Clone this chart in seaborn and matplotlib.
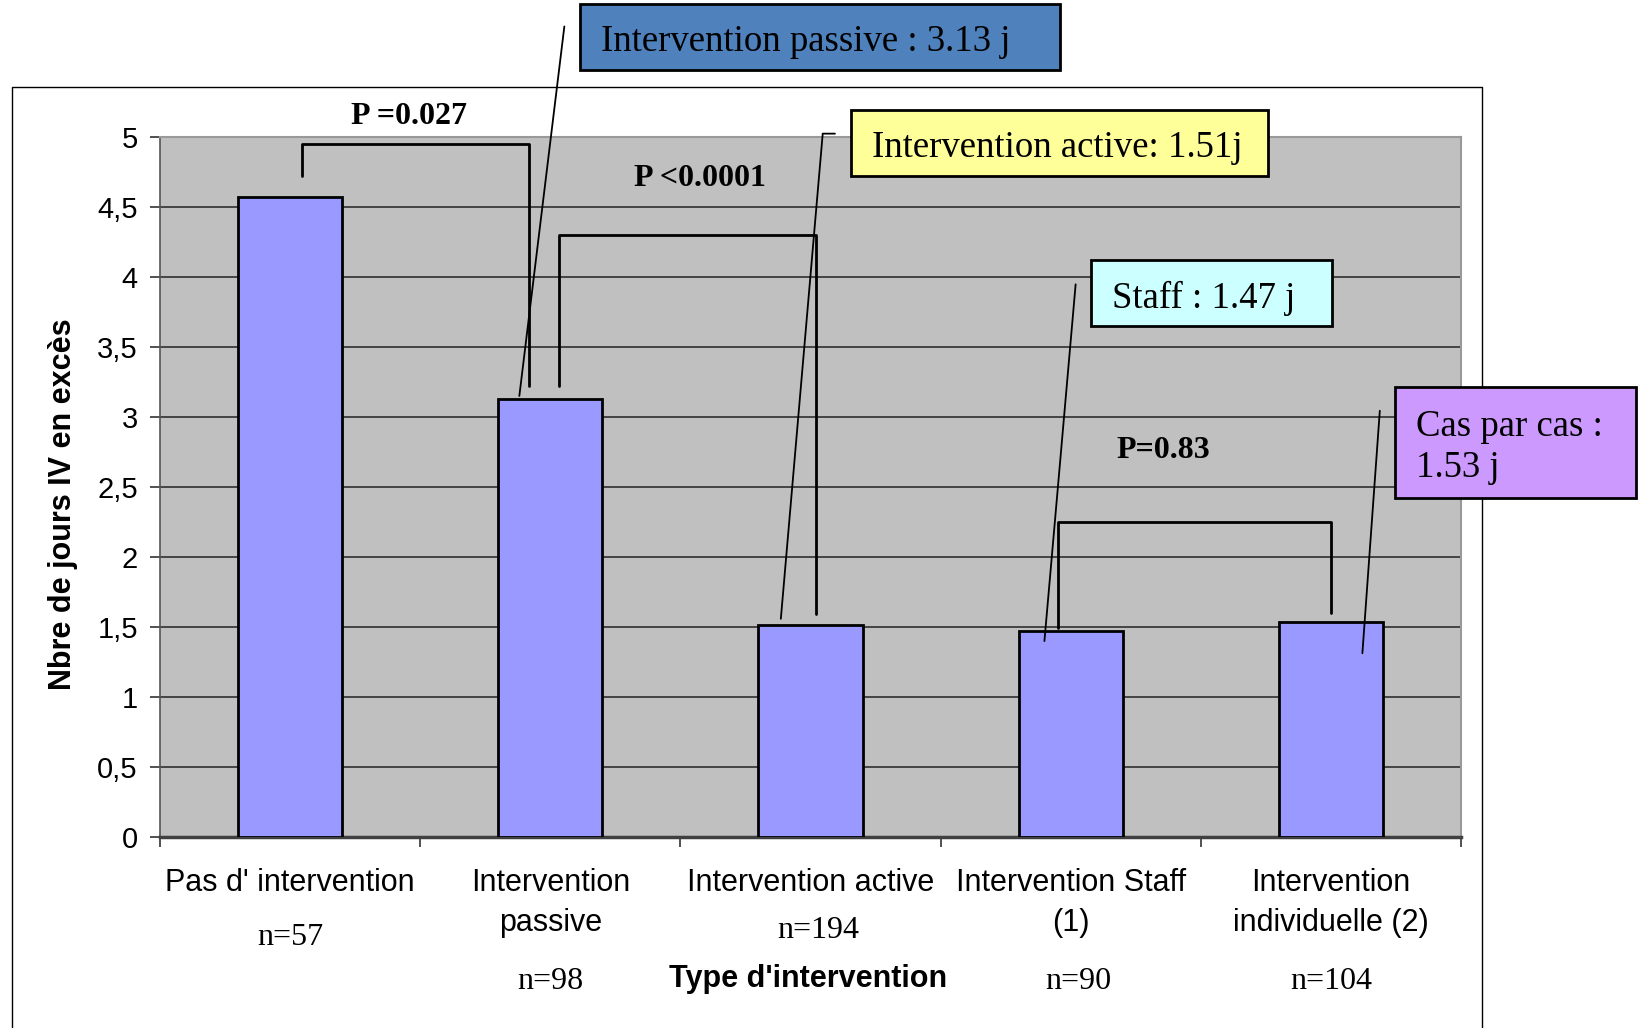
import matplotlib
matplotlib.use('Agg')
import matplotlib.pyplot as plt
import matplotlib.patches as patches
from matplotlib.lines import Line2D
import seaborn as sns
import pandas as pd

# data
categories = ["Pas d' intervention", "Intervention\npassive", "Intervention active",
              "Intervention Staff\n(1)", "Intervention\nindividuelle (2)"]
jours = [4.57, 3.13, 1.51, 1.47, 1.53]
effectifs = ["n=57", "n=98", "n=194", "n=90", "n=104"]
y_ticks = [0, 0.5, 1, 1.5, 2, 2.5, 3, 3.5, 4, 4.5, 5]
y_tick_labels = ["0", "0,5", "1", "1,5", "2", "2,5", "3", "3,5", "4", "4,5", "5"]
p_values = ["P =0.027", "P <0.0001", "P=0.83"]
callouts = ["Intervention passive : 3.13 j", "Intervention active: 1.51j",
            "Staff : 1.47 j", "Cas par cas :\n1.53 j"]
callout_colors = ["#4F81BD", "#FFFF99", "#CCFFFF", "#CC99FF"]

W, H = 1639, 1028
sns.set_style("white")
plt.rcParams['font.family'] = ['Liberation Sans', 'DejaVu Sans']
plt.rcParams['text.color'] = 'black'
plt.rcParams['xtick.color'] = 'black'
plt.rcParams['ytick.color'] = 'black'
SERIF = ['Liberation Serif', 'DejaVu Serif']

df = pd.DataFrame({'type': categories, 'jours': jours})

fig = plt.figure(figsize=(W / 100, H / 100), dpi=100)
ax = fig.add_axes([160 / W, 1 - 836.5 / H, 1301 / W, 699.5 / H])
sns.barplot(data=df, x='type', y='jours', color='#9999FF', saturation=1,
            edgecolor='black', linewidth=2, width=0.4, ax=ax, zorder=3)

ax.set_facecolor('#C0C0C0')
ax.set_xlim(-0.5, 4.5)
ax.set_ylim(0, 5)
ax.set_yticks(y_ticks, y_tick_labels)
ax.yaxis.grid(True, color='#3a3a3a', lw=1.3)
ax.set_axisbelow(True)
ax.set_xlabel('')
ax.set_ylabel('')
ax.tick_params(axis='y', direction='out', length=7, width=1.2, color='#333333',
               labelcolor='black', pad=9, labelsize=21, left=True)
ax.set_xticks(range(5), categories)
ax.set_xticks([i - 0.5 for i in range(6)], minor=True)
ax.tick_params(axis='x', which='major', length=0, pad=23, labelsize=22,
               labelcolor='black')
ax.tick_params(axis='x', which='minor', direction='out', length=7, width=1.2,
               color='#333333', bottom=True)
for lab in ax.get_xticklabels():
    lab.set_linespacing(1.4)
    lab.set_verticalalignment('top')
for s in ['top', 'right']:
    ax.spines[s].set_color('#999999')
    ax.spines[s].set_linewidth(1.5)
ax.spines['left'].set_color('#555555')
ax.spines['left'].set_linewidth(1.2)
ax.spines['bottom'].set_color('#404040')
ax.spines['bottom'].set_linewidth(2.5)

# n= labels under the categories
n_offsets = [0, 0.0, 0.03, 0.03, 0]
n_y = [-0.145, -0.207, -0.135, -0.207, -0.207]
for i, t in enumerate(effectifs):
    ax.text(i + n_offsets[i], n_y[i], t, transform=ax.get_xaxis_transform(),
            ha='center', va='center', fontsize=23, family=SERIF)
ax.text(1.99, -0.204, "Type d'intervention", transform=ax.get_xaxis_transform(),
        ha='center', va='center', fontsize=22, fontweight='bold')
fig.text(63 / W, 1 - 504 / H, "Nbre de jours IV en excès", rotation=90,
         ha='center', va='center', fontsize=22, fontweight='bold')

# significance brackets
brackets = [
    ([0.046, 0.046, 0.918, 0.918], [4.72, 4.95, 4.95, 3.22]),
    ([1.033, 1.033, 2.021, 2.021], [3.22, 4.30, 4.30, 1.593]),
    ([2.952, 2.952, 3.999, 3.999], [1.492, 2.248, 2.248, 1.60]),
]
for bx, by in brackets:
    ax.plot(bx, by, color='black', lw=2, clip_on=False, zorder=4)
p_pos = [(0.457, 5.15), (1.575, 4.70), (3.356, 2.76)]
for (px_, py_), t in zip(p_pos, p_values):
    ax.text(px_, py_, t, ha='center', va='center', fontsize=23,
            fontweight='bold', family=SERIF, zorder=5)

# callout lines
leaders = [
    ([1.054, 0.881], [5.79, 3.149]),
    ([2.094, 2.047, 1.886], [5.024, 5.024, 1.556]),
    ([3.019, 2.899], [3.947, 1.397]),
    ([4.188, 4.121], [3.043, 1.31]),
]
for lx, ly in leaders:
    ax.plot(lx, ly, color='black', lw=1.3, clip_on=False, zorder=4)

# outer chart frame
fig.add_artist(Line2D([11.5 / W, 11.5 / W, 1482 / W, 1482 / W],
                      [0, 1 - 87 / H, 1 - 87 / H, 0],
                      transform=fig.transFigure, color='black', lw=1, zorder=0.5))

# callout boxes (pixel boxes: x0, y0, x1, y1)
boxes = [(580, 4, 1060, 70), (851, 110, 1268, 176),
         (1091, 260, 1332, 326), (1395, 387, 1636, 498)]
for (x0, y0, x1, y1), col, t in zip(boxes, callout_colors, callouts):
    fig.add_artist(patches.Rectangle((x0 / W, 1 - y1 / H), (x1 - x0) / W, (y1 - y0) / H,
                                     transform=fig.transFigure, facecolor=col,
                                     edgecolor='black', lw=2, zorder=2))
    fig.text((x0 + 21) / W, 1 - ((y0 + y1) / 2 + 5) / H, t, ha='left', va='center',
             fontsize=26.5, family=SERIF, zorder=3, linespacing=1.25)

fig.savefig('out.png', dpi=100)
